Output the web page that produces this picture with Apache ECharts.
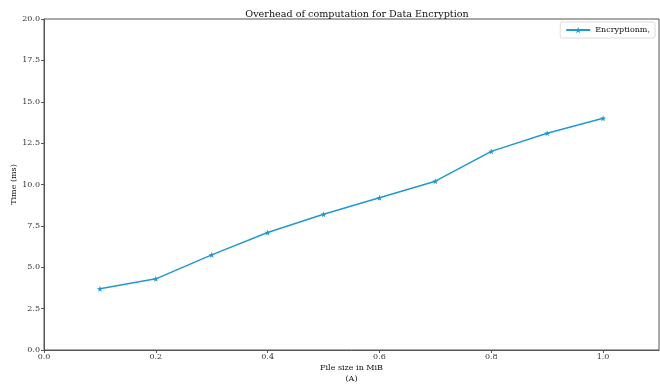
<!DOCTYPE html>
<html><head><meta charset="utf-8">
<script src="https://cdn.jsdelivr.net/npm/echarts@6/dist/echarts.min.js"></script>
<style>html,body{margin:0;padding:0;background:#fff}#c{width:660px;height:386px}</style>
</head><body><div id="c"></div>
<script>
const fileSizes = [0.1, 0.2, 0.3, 0.4, 0.5, 0.6, 0.7, 0.8, 0.9, 1.0];
const encTimes = [3.7, 4.3, 5.75, 7.1, 8.2, 9.2, 10.2, 12.0, 13.1, 14.0];
const seriesName = 'Encryptionm,';
const titleText = 'Overhead of computation for Data Encryption';
const xName = 'File size in MiB\n(A)';
const yName = 'Time (ms)';

const FONT = 'DejaVu Serif';
const AX = '#555';
const COLOR = '#2299cc';
const star = 'path://M0,-10 L2.35,-3.24 L9.51,-3.09 L3.8,1.24 L5.88,8.09 L0,4 L-5.88,8.09 L-3.8,1.24 L-9.51,-3.09 L-2.35,-3.24 Z';

const chart = echarts.init(document.getElementById('c'));
chart.setOption({
  animation: false,
  backgroundColor: '#fff',
  title: { text: titleText, left: 352, textAlign: 'center', top: 4,
    textStyle: { fontFamily: FONT, fontSize: 9.6, fontWeight: 'normal', color: '#111' } },
  legend: { right: 5, top: 22, data: [seriesName], itemWidth: 24, itemHeight: 8,
    backgroundColor: '#fff', borderColor: '#ddd', borderWidth: 1, padding: [4, 5], borderRadius: 2,
    textStyle: { fontFamily: FONT, fontSize: 8, color: '#111' } },
  grid: { left: 44, right: 1, top: 19, bottom: 36, show: true, borderColor: AX, borderWidth: 1,
    containLabel: false, outerBoundsMode: 'none' },
  xAxis: { type: 'value', min: 0, max: 1.1, interval: 0.2,
    name: xName, nameLocation: 'middle', nameGap: 12, nameMoveOverlap: false,
    nameTextStyle: { fontFamily: FONT, fontSize: 8, color: '#111', lineHeight: 11, verticalAlign: 'top' },
    axisLine: { lineStyle: { color: AX } }, axisTick: { length: 3, lineStyle: { color: AX } },
    axisLabel: { fontFamily: FONT, fontSize: 8, color: '#333', margin: 3, showMaxLabel: false,
      formatter: v => v.toFixed(1) },
    splitLine: { show: false } },
  yAxis: { type: 'value', min: 0, max: 20, interval: 2.5,
    name: yName, nameLocation: 'middle', nameGap: 26, nameRotate: 90, nameMoveOverlap: false,
    nameTextStyle: { fontFamily: FONT, fontSize: 8, color: '#111' },
    axisLine: { show: true, lineStyle: { color: AX } }, axisTick: { show: true, length: 3, lineStyle: { color: AX } },
    axisLabel: { fontFamily: FONT, fontSize: 8, color: '#333', margin: 4, formatter: v => v.toFixed(1) },
    splitLine: { show: false } },
  series: [{ name: seriesName, type: 'line', data: fileSizes.map((x, i) => [x, encTimes[i]]),
    symbol: star, symbolSize: 6, showAllSymbol: true,
    lineStyle: { color: COLOR, width: 1.5 }, itemStyle: { color: COLOR } }]
});
</script></body></html>
